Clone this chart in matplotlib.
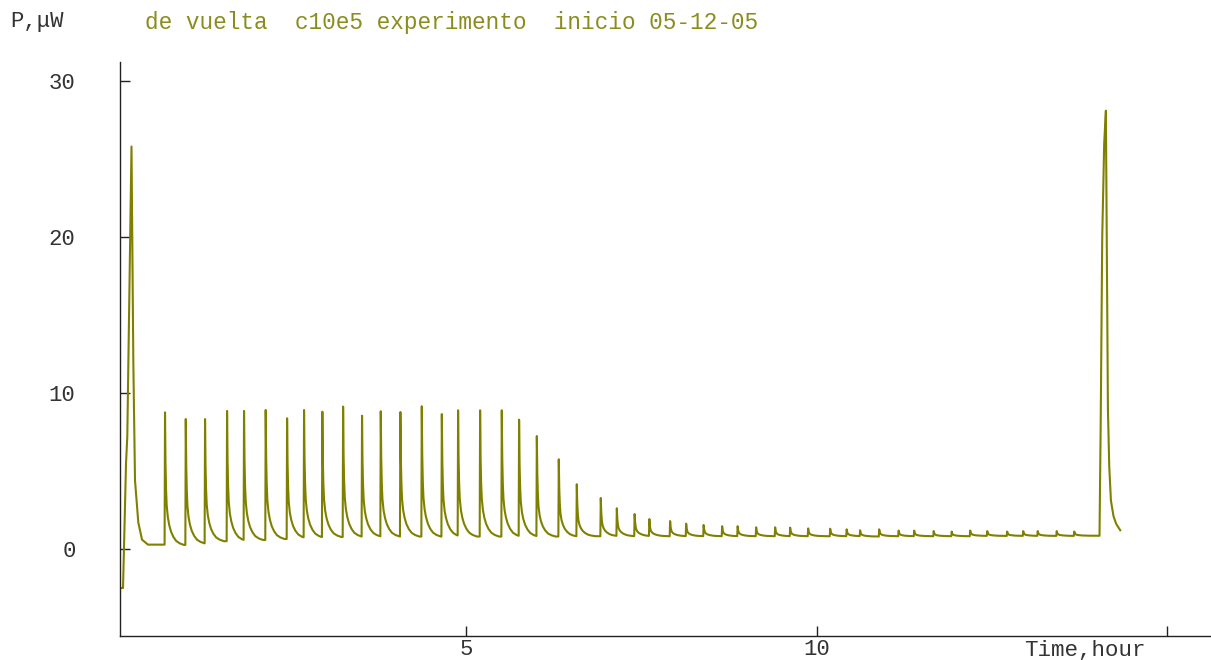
import numpy as np
import matplotlib
matplotlib.use("Agg")
import matplotlib.pyplot as plt

# ---- data (hours, microwatts) ----
start_t = [0.064, 0.107, 0.150, 0.168, 0.228, 0.254, 0.278, 0.325, 0.378, 0.463]
start_p = [-2.5, -2.5, 5.5, 7.2, 25.8, 12.0, 4.4, 1.7, 0.6, 0.28]

spike_t = [0.706, 1.002, 1.277, 1.591, 1.833, 2.142, 2.447, 2.689, 2.950, 3.246,
           3.516, 3.783, 4.063, 4.368, 4.654, 4.886, 5.200, 5.509, 5.756, 6.009,
           6.322, 6.579, 6.921, 7.150, 7.404, 7.614, 7.910, 8.139, 8.388, 8.652,
           8.873, 9.137, 9.408, 9.622, 9.879, 10.193, 10.428, 10.620, 10.892, 11.169,
           11.391, 11.669, 11.926, 12.190, 12.433, 12.717, 12.946, 13.153, 13.424, 13.674]
spike_p = [8.76, 8.33, 8.33, 8.85, 8.85, 8.91, 8.38, 8.91, 8.80, 9.13,
           8.54, 8.83, 8.78, 9.15, 8.65, 8.89, 8.89, 8.89, 8.29, 7.24,
           5.75, 4.15, 3.27, 2.61, 2.24, 1.92, 1.79, 1.62, 1.54, 1.46,
           1.46, 1.39, 1.39, 1.37, 1.32, 1.30, 1.26, 1.20, 1.26, 1.18,
           1.18, 1.15, 1.12, 1.18, 1.15, 1.12, 1.15, 1.15, 1.15, 1.12]
spike_base = [0.26, 0.36, 0.50, 0.53, 0.58, 0.64, 0.70, 0.74, 0.77, 0.79,
              0.80, 0.80, 0.80, 0.80, 0.80, 0.80, 0.80, 0.80, 0.80, 0.80,
              0.80, 0.82, 0.82, 0.82, 0.82, 0.82, 0.82, 0.82, 0.82, 0.82,
              0.82, 0.82, 0.82, 0.82, 0.82, 0.82, 0.82, 0.80, 0.82, 0.82,
              0.82, 0.82, 0.82, 0.84, 0.84, 0.84, 0.84, 0.84, 0.84, 0.85]

# shape of a spike's decay (offset in hours, fraction of height above base)
decay_dt = [0.0, 0.007, 0.015, 0.024, 0.04, 0.06, 0.086, 0.12, 0.16, 0.21, 0.27]
decay_frac = [1.0, 0.62, 0.42, 0.30, 0.21, 0.15, 0.10, 0.06, 0.03, 0.012, 0.0]

end_t = [14.034, 14.051, 14.073, 14.101, 14.125, 14.140, 14.154, 14.173, 14.197, 14.234, 14.273, 14.330]
end_p = [0.85, 8.0, 20.0, 26.0, 28.1, 18.0, 9.0, 5.3, 3.1, 2.1, 1.6, 1.2]

x_ticks = [5, 10, 15]
x_tick_labels = ["5", "10", ""]
y_ticks = [0, 10, 20, 30]
y_tick_labels = ["0", "10", "20", "30"]

# ---- build curve ----
t_all = list(start_t)
p_all = list(start_p)
prev = start_p[-1]
next_starts = spike_t[1:] + [end_t[0]]
for ti, pi, bi, tn in zip(spike_t, spike_p, spike_base, next_starts):
    t_all.append(ti - 0.006)
    p_all.append(prev)
    for dt, f in zip(decay_dt, decay_frac):
        if ti + dt < tn - 0.012:
            t_all.append(ti + dt)
            p_all.append(bi + (pi - bi) * f)
    prev = bi + (pi - bi) * float(np.interp(tn - 0.006 - ti, decay_dt, decay_frac))
t_all += end_t
p_all += end_p

# ---- plot ----
FONT = "Liberation Mono"
fig = plt.figure(figsize=(12.11, 6.6), dpi=100)
ax = fig.add_axes([120 / 1211, 24 / 660, (1210 - 120) / 1211, (636 - 62) / 660])
ax.plot(t_all, p_all, color="#808000", lw=1.5)

ax.set_xlim(0.064, 15.61)
ax.set_ylim(-87 / 15.6, 487 / 15.6)
for s in ["top", "right"]:
    ax.spines[s].set_visible(False)
for s in ["left", "bottom"]:
    ax.spines[s].set_color("#222222")
    ax.spines[s].set_linewidth(1.0)

ax.set_xticks(x_ticks)
ax.set_xticklabels(x_tick_labels)
ax.set_yticks(y_ticks)
ax.set_yticklabels(y_tick_labels)
ax.tick_params(axis="both", direction="in", length=7.5, width=1.0, color="#222222",
               labelsize=16, labelcolor="#333333")
ax.tick_params(axis="y", pad=32)
ax.tick_params(axis="x", pad=2)
for lab in ax.get_xticklabels() + ax.get_yticklabels():
    lab.set_family(FONT)

fig.text(10 / 1211, 1 - 22 / 660, "P,\u03bcW", family=FONT, fontsize=16,
         color="#333333", va="center", ha="left")
fig.text(145 / 1211, 1 - 22 / 660, "de vuelta  c10e5 experimento  inicio 05-12-05",
         family=FONT, fontsize=16.4, color="#8c8c1e", va="center", ha="left")
fig.text(1024 / 1211, 1 - 650 / 660, "Time,hour", family=FONT, fontsize=16.2,
         color="#333333", va="center", ha="left")

fig.savefig("out.png", dpi=100)
